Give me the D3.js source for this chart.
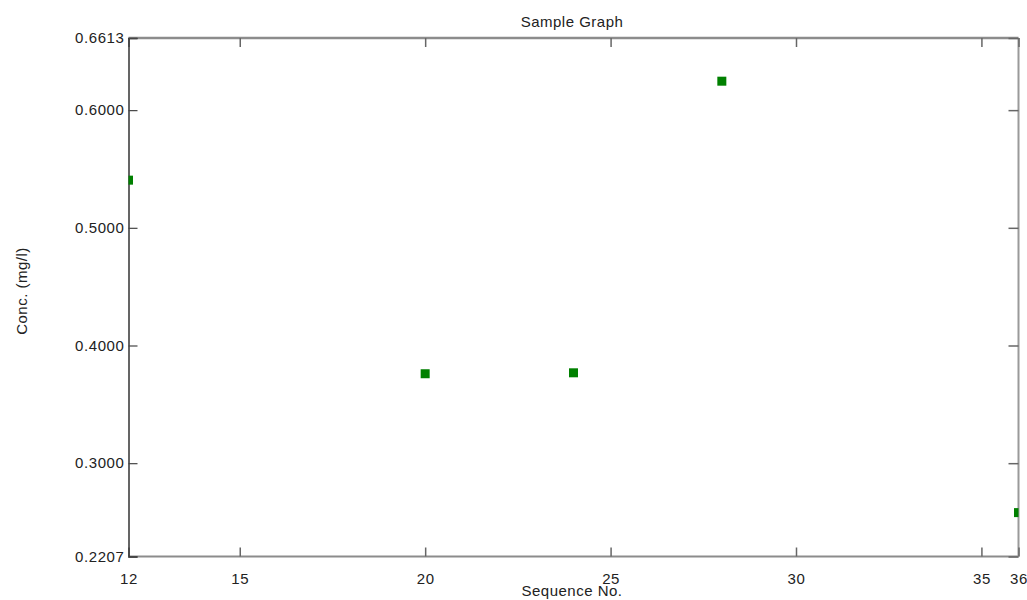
<!DOCTYPE html>
<html>
<head>
<meta charset="utf-8">
<script src="https://cdn.jsdelivr.net/npm/d3@7"></script>
<style>
body { margin: 0; background: #fff; }
text { font-family: "Liberation Sans", Arial, sans-serif; fill: #222; }
</style>
</head>
<body>
<div id="chart"></div>
<script>
var width = 1027;
var height = 600;

// data
var seqNo = [12, 20, 24, 28, 36];
var conc = [0.5405, 0.3760, 0.3768, 0.6246, 0.2580];
var xTicks = [12, 15, 20, 25, 30, 35, 36];
var yTicks = [0.2207, 0.3, 0.4, 0.5, 0.6, 0.6613];

var plotLeft = 128.5, plotRight = 1018.5, plotTop = 38, plotBottom = 556.5;

var x = d3.scaleLinear().domain([12, 36]).range([plotLeft, plotRight]);
var y = d3.scaleLinear().domain([0.2207, 0.6613]).range([plotBottom, plotTop]);

var svg = d3.select("#chart").append("svg")
  .attr("width", width)
  .attr("height", height);

svg.append("defs").append("clipPath").attr("id", "plot")
  .append("rect")
  .attr("x", plotLeft).attr("y", plotTop)
  .attr("width", plotRight - plotLeft).attr("height", plotBottom - plotTop);

// frame: gray top/bottom/right, dark left
svg.append("line").attr("x1", plotLeft).attr("x2", plotRight).attr("y1", plotTop).attr("y2", plotTop)
  .attr("stroke", "#8c8c8c").attr("stroke-width", 2.5);
svg.append("line").attr("x1", plotLeft).attr("x2", plotRight).attr("y1", plotBottom).attr("y2", plotBottom)
  .attr("stroke", "#8c8c8c").attr("stroke-width", 2);
svg.append("line").attr("x1", plotRight).attr("x2", plotRight).attr("y1", plotTop).attr("y2", plotBottom)
  .attr("stroke", "#9a9a9a").attr("stroke-width", 2);

// bottom axis
var xAxis = svg.append("g")
  .attr("transform", "translate(0," + plotBottom + ")")
  .call(d3.axisBottom(x).tickValues(xTicks).tickSize(-9).tickPadding(17).tickFormat(d3.format("d")));
xAxis.select(".domain").remove();
xAxis.selectAll(".tick line").attr("stroke", "#666").attr("stroke-width", 1.5);
xAxis.selectAll("text").attr("font-size", 15).attr("letter-spacing", 0.6).attr("fill", "#222");

// top ticks
var xTop = svg.append("g")
  .attr("transform", "translate(0," + plotTop + ")")
  .call(d3.axisTop(x).tickValues(xTicks).tickSize(-9).tickFormat(""));
xTop.select(".domain").remove();
xTop.selectAll(".tick line").attr("stroke", "#666").attr("stroke-width", 1.5);

// right ticks
var yRight = svg.append("g")
  .attr("transform", "translate(" + plotRight + ",0)")
  .call(d3.axisRight(y).tickValues(yTicks).tickSize(-10).tickFormat(""));
yRight.select(".domain").remove();
yRight.selectAll(".tick line").attr("stroke", "#666").attr("stroke-width", 1.5);

// left axis
var yAxis = svg.append("g")
  .attr("transform", "translate(" + plotLeft + ",0)")
  .call(d3.axisLeft(y).tickValues(yTicks).tickSize(-9).tickPadding(4).tickFormat(d3.format(".4f")));
yAxis.select(".domain").attr("stroke", "#333").attr("stroke-width", 1.5);
yAxis.selectAll(".tick line").attr("stroke", "#444").attr("stroke-width", 1.2);
yAxis.selectAll("text").attr("font-size", 15).attr("letter-spacing", 0.6).attr("fill", "#222");

// points
svg.append("g")
  .attr("clip-path", "url(#plot)")
  .selectAll("rect")
  .data(seqNo)
  .enter().append("rect")
  .attr("x", function(d) { return x(d) - 4.5; })
  .attr("y", function(d, i) { return y(conc[i]) - 4.5; })
  .attr("width", 9)
  .attr("height", 9)
  .attr("fill", "#008000");

// titles
svg.append("text")
  .attr("x", 572).attr("y", 27)
  .attr("text-anchor", "middle")
  .attr("font-size", 15).attr("letter-spacing", 0.5)
  .text("Sample Graph");

svg.append("text")
  .attr("x", 572).attr("y", 596)
  .attr("text-anchor", "middle")
  .attr("font-size", 15).attr("letter-spacing", 0.5)
  .text("Sequence No.");

svg.append("text")
  .attr("transform", "translate(27,291) rotate(-90)")
  .attr("text-anchor", "middle")
  .attr("font-size", 15).attr("letter-spacing", 0.5)
  .text("Conc. (mg/l)");
</script>
</body>
</html>
